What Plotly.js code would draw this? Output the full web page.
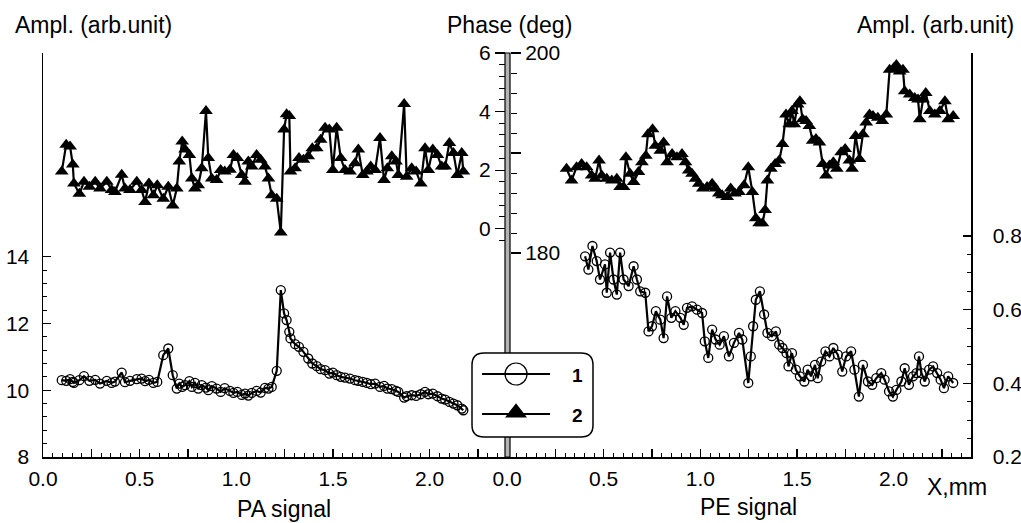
<!DOCTYPE html>
<html><head><meta charset="utf-8">
<script src="https://cdn.plot.ly/plotly-3.0.1.min.js"></script>
<style>html,body{margin:0;padding:0;background:#fff}#chart{width:1021px;height:523px}</style>
</head><body><div id="chart"></div>
<script>
const xPA = [0.097,0.12,0.14,0.154,0.16,0.188,0.212,0.24,0.27,0.295,
0.33,0.355,0.372,0.407,0.424,0.45,0.485,0.51,0.528,0.548,
0.571,0.591,0.622,0.648,0.671,0.692,0.705,0.72,0.735,0.757,
0.77,0.786,0.803,0.821,0.843,0.855,0.873,0.898,0.919,0.94,
0.967,0.985,1.005,1.028,1.045,1.062,1.08,1.105,1.126,1.148,
1.166,1.183,1.209,1.23,1.247,1.26,1.274,1.28,1.304,1.324,
1.347,1.372,1.393,1.416,1.436,1.459,1.481,1.499,1.519,1.54,
1.562,1.588,1.614,1.631,1.654,1.675,1.695,1.718,1.743,1.764,
1.781,1.804,1.826,1.838,1.868,1.881,1.907,1.93,1.954,1.976,
1.993,2.016,2.04,2.062,2.08,2.102,2.123,2.143,2.166,2.174];
const ampPA = [10.30,10.28,10.33,10.25,10.22,10.30,10.42,10.28,10.31,10.20,
10.28,10.22,10.26,10.53,10.24,10.28,10.33,10.35,10.27,10.31,
10.22,10.25,11.05,11.25,10.45,10.05,10.20,10.10,10.15,10.27,
10.10,10.22,10.05,10.15,10.08,10.00,10.12,10.05,9.95,10.06,
9.98,9.92,9.95,9.86,9.90,9.84,9.92,9.98,9.93,10.07,
10.05,10.10,10.58,13.00,12.30,12.10,11.75,11.55,11.38,11.30,
11.15,10.95,10.80,10.72,10.63,10.60,10.50,10.53,10.45,10.40,
10.38,10.35,10.30,10.28,10.25,10.22,10.18,10.20,10.10,10.13,
10.05,10.03,9.98,9.95,9.78,9.82,9.85,9.83,9.88,9.95,
9.88,9.90,9.82,9.75,9.72,9.65,9.60,9.55,9.45,9.40];
const phasePA = [1.95,2.87,2.81,2.19,1.54,1.19,1.6,1.43,1.6,1.37,
1.6,1.32,1.25,1.84,1.37,1.32,1.6,1.32,0.91,1.54,
1.14,1.48,1.02,1.43,0.79,1.37,2.29,2.98,2.7,2.52,
1.71,1.37,1.48,2.06,4.02,2.41,1.71,1.66,2.0,1.95,
2.01,2.52,2.41,1.83,1.6,2.29,2.12,2.52,2.35,2.12,
1.71,1.14,1.02,-0.13,3.39,3.91,3.85,1.95,2.06,2.41,
2.35,2.47,2.75,2.75,3.04,3.45,3.39,2.0,3.45,2.41,
2.0,1.95,2.23,2.7,1.83,1.95,2.12,2.0,3.1,1.66,
2.06,2.47,2.29,1.83,4.26,1.77,2.06,1.95,1.54,2.75,
2.0,2.7,2.52,2.12,2.12,2.93,2.58,1.83,2.58,1.95];
const xPEphase = [0.308,0.334,0.36,0.386,0.412,0.438,0.456,0.476,0.49,0.516,
0.542,0.568,0.585,0.603,0.615,0.637,0.655,0.68,0.698,0.718,
0.729,0.753,0.767,0.793,0.81,0.828,0.854,0.879,0.905,0.923,
0.94,0.957,0.975,0.992,1.013,1.035,1.061,1.079,1.096,1.113,
1.139,1.157,1.179,1.2,1.226,1.248,1.269,1.287,1.304,1.321,
1.335,1.347,1.365,1.387,1.408,1.425,1.443,1.46,1.474,1.486,
1.503,1.515,1.529,1.547,1.564,1.581,1.598,1.616,1.633,1.65,
1.668,1.688,1.706,1.728,1.749,1.771,1.785,1.803,1.823,1.841,
1.858,1.875,1.893,1.918,1.941,1.962,1.979,2.0,2.014,2.031,
2.048,2.057,2.083,2.109,2.126,2.135,2.152,2.166,2.187,2.213,
2.239,2.265,2.282,2.308];
const phasePE = [188.42,187.26,188.58,188.91,188.58,187.75,187.43,189.24,187.75,187.43,
187.26,187.43,186.6,186.6,189.57,187.92,187.1,188.09,189.08,189.73,
191.88,192.38,190.72,190.23,191.06,189.08,189.9,189.57,189.9,189.08,
188.25,187.92,187.43,186.93,186.44,186.6,186.93,186.44,185.94,185.77,
185.61,186.44,185.94,186.11,186.77,188.58,186.11,183.47,182.97,182.97,
184.29,187.26,188.42,188.91,189.24,190.89,193.86,192.87,194.19,192.87,
194.85,195.18,193.37,193.2,192.7,191.22,191.39,191.06,188.91,187.75,
188.74,189.08,188.42,190.07,190.4,189.24,188.42,191.71,189.41,191.88,
193.04,193.86,193.69,193.53,193.2,193.86,198.32,198.48,198.81,198.15,
198.32,196.17,195.84,195.51,195.35,193.37,195.35,196.0,194.19,193.86,
194.19,195.18,193.37,193.69];
const xPEamp = [0.404,0.421,0.442,0.464,0.481,0.507,0.516,0.533,0.551,0.568,
0.585,0.603,0.629,0.655,0.672,0.689,0.715,0.732,0.75,0.77,
0.793,0.81,0.828,0.85,0.871,0.897,0.914,0.931,0.957,0.983,
1.009,1.023,1.041,1.061,1.079,1.1,1.122,1.148,1.174,1.2,
1.217,1.248,1.261,1.273,1.287,1.308,1.33,1.347,1.37,1.391,
1.408,1.425,1.446,1.456,1.474,1.494,1.515,1.538,1.555,1.573,
1.593,1.607,1.625,1.647,1.668,1.688,1.711,1.734,1.754,1.78,
1.797,1.82,1.841,1.867,1.889,1.91,1.936,1.953,1.976,1.996,
2.014,2.04,2.057,2.079,2.1,2.118,2.131,2.144,2.161,2.183,
2.204,2.225,2.243,2.26,2.282,2.308];
const ampPE = [0.745,0.709,0.773,0.732,0.682,0.723,0.646,0.755,0.682,0.641,
0.755,0.682,0.664,0.718,0.682,0.65,0.646,0.541,0.555,0.596,
0.573,0.523,0.636,0.578,0.596,0.578,0.559,0.605,0.609,0.6,
0.591,0.514,0.469,0.546,0.519,0.505,0.528,0.473,0.51,0.537,
0.519,0.401,0.473,0.555,0.627,0.65,0.587,0.537,0.528,0.541,
0.505,0.496,0.482,0.446,0.482,0.437,0.419,0.405,0.437,0.419,
0.45,0.414,0.459,0.487,0.473,0.496,0.478,0.432,0.473,0.487,
0.437,0.364,0.45,0.405,0.396,0.414,0.428,0.41,0.378,0.364,
0.382,0.405,0.441,0.396,0.419,0.428,0.473,0.428,0.405,0.437,
0.446,0.428,0.41,0.387,0.419,0.401];

const xTickVals = [0,0.25,0.5,0.75,1.0,1.25,1.5,1.75,2.0,2.25];
const xTickText = ['0.0','','0.5','','1.0','','1.5','','2.0',''];
const xMinor = [0.05,0.1,0.15,0.2,0.3,0.35,0.4,0.45,0.55,0.6,0.65,0.7,0.8,0.85,0.9,0.95,1.05,1.1,1.15,1.2,
1.3,1.35,1.4,1.45,1.55,1.6,1.65,1.7,1.8,1.85,1.9,1.95,2.05,2.1,2.15,2.2,2.3,2.35];
const ampPATicks = [8,10,12,14];
const ampPAMinor = [8.4,8.8,9.2,9.6,10.4,10.8,11.2,11.6,12.4,12.8,13.2,13.6];
const phasePATicks = [0,2,4,6];
const phasePAMinor = [-0.4,0.4,0.8,1.2,1.6,2.4,2.8,3.2,3.6,4.4,4.8,5.2,5.6];
const phasePETicks = [180,190,200];
const phasePETickText = ['180','','200'];
const phasePEMinor = [182,184,186,188,192,194,196,198];
const ampPETicks = [0.2,0.4,0.6,0.8];
const ampPETickText = ['0.2','0.4','0.6','0.8'];
const ampPEMinor = [0.25,0.3,0.35,0.45,0.5,0.55,0.65,0.7,0.75];
const legendLabels = ['1','2'];

const Lp=43, Rp=971, Tp=53, Bp=457;
const px = v => (v-Lp)/(Rp-Lp);
const py = v => (Bp-v)/(Bp-Tp);
const FONT = 'Liberation Sans, Arial, Helvetica, sans-serif';
const K = '#000';

const lineStyle = {color:K, width:2.2};
const circ = {symbol:'circle-open', size:9, color:K, line:{width:1.3, color:K}};
const tri = {symbol:'triangle-up', size:12, color:K};
// helper traces (no visible marks) so that the minor-tick axes are drawn
const tickHolder = (xa, ya, yv) => ({x:[1], y:[yv], xaxis:xa, yaxis:ya, mode:'markers',
  marker:{opacity:0, size:1}, hoverinfo:'skip'});
const traces = [
  {x:xPA, y:ampPA, xaxis:'x', yaxis:'y', mode:'lines+markers', line:lineStyle, marker:circ},
  {x:xPA, y:phasePA, xaxis:'x', yaxis:'y2', mode:'lines+markers', line:lineStyle, marker:tri},
  {x:xPEamp, y:ampPE, xaxis:'x2', yaxis:'y4', mode:'lines+markers', line:lineStyle, marker:circ},
  {x:xPEphase, y:phasePE, xaxis:'x2', yaxis:'y3', mode:'lines+markers', line:lineStyle, marker:tri},
  tickHolder('x4','y6',10), tickHolder('x5','y9',0.5), tickHolder('x','y7',1), tickHolder('x2','y8',190),
  {x:[0.083,0.645], y:[0.75,0.75], xaxis:'x3', yaxis:'y5', mode:'lines', line:{color:K,width:2}},
  {x:[0.364], y:[0.75], xaxis:'x3', yaxis:'y5', mode:'markers',
   marker:{symbol:'circle-open', size:22, color:K, line:{width:1.2,color:K}}},
  {x:[0.083,0.645], y:[0.274,0.274], xaxis:'x3', yaxis:'y5', mode:'lines', line:{color:K,width:2}},
  {x:[0.364], y:[0.29], xaxis:'x3', yaxis:'y5', mode:'markers',
   marker:{symbol:'triangle-up', size:19, color:K}}
];

const tickFont = {family:FONT, size:21, color:K};
const common = {showgrid:false, zeroline:false, fixedrange:true, tickcolor:K, tickfont:tickFont, tickmode:'array'};
const xBase = Object.assign({}, common, {range:[0,2.4], showline:true, linecolor:K, linewidth:1.5, ticks:'inside', ticklen:8,
  tickwidth:1.2, tickvals:xTickVals, ticktext:xTickText, ticklabelstandoff:2});
const xMinorBase = Object.assign({}, common, {range:[0,2.4], showline:false, ticks:'inside', ticklen:4, tickwidth:1,
  tickvals:xMinor, showticklabels:false});

const box = {x0:px(472), x1:px(593), y0:py(437), y1:py(353)};
const rx = 12/(Rp-Lp), ry = 12/(Bp-Tp);
const boxPath = `M${box.x0+rx},${box.y1} L${box.x1-rx},${box.y1} Q${box.x1},${box.y1} ${box.x1},${box.y1-ry} `+
  `L${box.x1},${box.y0+ry} Q${box.x1},${box.y0} ${box.x1-rx},${box.y0} L${box.x0+rx},${box.y0} `+
  `Q${box.x0},${box.y0} ${box.x0},${box.y0+ry} L${box.x0},${box.y1-ry} Q${box.x0},${box.y1} ${box.x0+rx},${box.y1} Z`;

const ann = (text, x, y, size) => ({text, x:px(x), y:py(y), xref:'paper', yref:'paper',
  showarrow:false, xanchor:'center', yanchor:'middle', font:{family:FONT, size:size, color:K}});

const layout = {
  width:1021, height:523, margin:{l:Lp, r:1021-Rp, t:Tp, b:523-Bp, pad:0},
  paper_bgcolor:'#fff', plot_bgcolor:'rgba(0,0,0,0)', showlegend:false,
  font:{family:FONT, size:21, color:K},
  xaxis:Object.assign({}, xBase, {domain:[0,0.5], anchor:'y'}),
  xaxis2:Object.assign({}, xBase, {domain:[0.5,1], anchor:'y4'}),
  xaxis4:Object.assign({}, xMinorBase, {overlaying:'x', anchor:'y'}),
  xaxis5:Object.assign({}, xMinorBase, {overlaying:'x2', anchor:'y4'}),
  yaxis:Object.assign({}, common, {domain:[0,1], range:[8,20.1], anchor:'x', side:'left', showline:true, linecolor:K, linewidth:1.5,
    ticks:'inside', ticklen:8, tickwidth:1.2, tickvals:ampPATicks, ticktext:ampPATicks.map(String), ticklabelstandoff:8}),
  yaxis6:Object.assign({}, common, {range:[8,20.1], overlaying:'y', anchor:'x', side:'left', showline:false,
    ticks:'inside', ticklen:4, tickwidth:1, tickvals:ampPAMinor, showticklabels:false}),
  yaxis2:Object.assign({}, common, {range:[-7.8,6], overlaying:'y', anchor:'free', position:px(505), side:'left', showline:false,
    ticks:'outside', ticklen:10, tickwidth:1.2, tickvals:phasePATicks, ticktext:phasePATicks.map(String)}),
  yaxis7:Object.assign({}, common, {range:[-7.8,6], overlaying:'y', anchor:'free', position:px(505), side:'left', showline:false,
    ticks:'outside', ticklen:6, tickwidth:1, tickvals:phasePAMinor, showticklabels:false}),
  yaxis3:Object.assign({}, common, {range:[159.6,200], overlaying:'y4', anchor:'free', position:px(510), side:'right', showline:false,
    ticks:'outside', ticklen:10, tickwidth:1.2, tickvals:phasePETicks, ticktext:phasePETickText}),
  yaxis8:Object.assign({}, common, {range:[159.6,200], overlaying:'y4', anchor:'free', position:px(510), side:'right', showline:false,
    ticks:'outside', ticklen:6, tickwidth:1, tickvals:phasePEMinor, showticklabels:false}),
  yaxis4:Object.assign({}, common, {domain:[0,1], range:[0.2,1.297], anchor:'x2', side:'right', showline:true, linecolor:K, linewidth:1.5,
    ticks:'inside', ticklen:8, tickwidth:1.2, tickvals:ampPETicks, ticktext:ampPETickText, ticklabelstandoff:16}),
  yaxis9:Object.assign({}, common, {range:[0.2,1.297], overlaying:'y4', anchor:'x2', side:'right', showline:false,
    ticks:'inside', ticklen:4, tickwidth:1, tickvals:ampPEMinor, showticklabels:false}),
  xaxis3:{domain:[box.x0, box.x1], range:[0,1], anchor:'y5', visible:false, fixedrange:true},
  yaxis5:{domain:[box.y0, box.y1], range:[0,1], anchor:'x3', visible:false, fixedrange:true},
  shapes:[
    {type:'rect', xref:'paper', yref:'paper', x0:px(505), x1:px(510), y0:0, y1:1,
     fillcolor:'#b4b4b4', line:{color:K, width:1.2}, layer:'below'},
    {type:'path', xref:'paper', yref:'paper', path:boxPath, fillcolor:'#fff', line:{color:K, width:1.5}, layer:'below'}
  ],
  annotations:[
    ann('Ampl. (arb.unit)', 93, 25, 23),
    ann('Phase (deg)', 510, 25, 23),
    ann('Ampl. (arb.unit)', 935, 25, 23),
    ann('PA signal', 284, 509, 23),
    ann('PE signal', 748, 507, 23),
    ann('X,mm', 957, 487, 23),
    ann('<b>'+legendLabels[0]+'</b>', 577, 375, 19),
    ann('<b>'+legendLabels[1]+'</b>', 577, 415, 19)
  ]
};

Plotly.newPlot('chart', traces, layout, {staticPlot:true, displayModeBar:false});
</script></body></html>
